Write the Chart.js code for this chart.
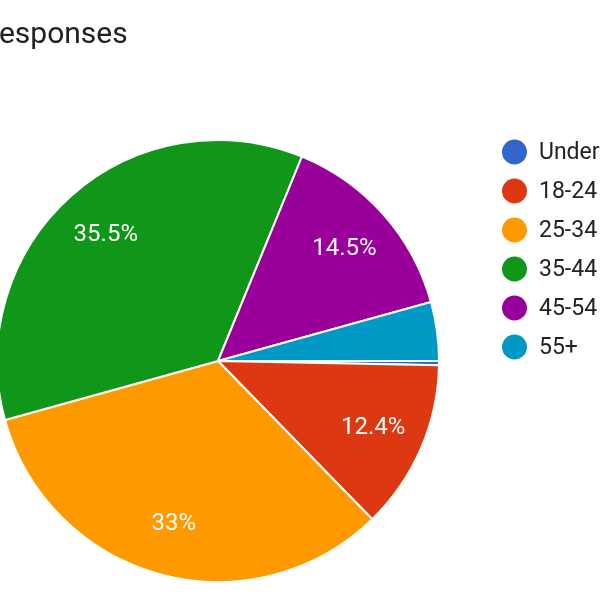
<!DOCTYPE html>
<html>
<head>
<meta charset="utf-8">
<title>Responses by age</title>
<script src="https://cdn.jsdelivr.net/npm/chart.js@4.4.1/dist/chart.umd.min.js"></script>
<style>
  html, body { margin: 0; padding: 0; background: #fff; overflow: hidden; width: 600px; height: 600px; }
  /* the reference is a crop, so the canvas is wider than the window and pushed left */
  #wrap { position: absolute; left: -40px; top: 0; width: 700px; height: 600px; }
</style>
</head>
<body>
<div id="wrap"><canvas id="agePie"></canvas></div>
<script>
const titleText = "responses";
const ageGroups = ["Under 18", "18-24", "25-34", "35-44", "45-54", "55+"];
const sharePercent = [0.3, 12.4, 33, 35.5, 14.5, 4.3];
const sliceColors = ["#3366CC", "#DC3912", "#FF9900", "#109618", "#990099", "#0099C6"];

const SHIFT = 40; // how far the canvas sits left of the window

// percentage text inside the bigger slices
const sliceLabels = {
  id: "sliceLabels",
  afterDatasetsDraw(chart) {
    const ctx = chart.ctx;
    const meta = chart.getDatasetMeta(0);
    ctx.save();
    ctx.font = "24px Roboto";
    ctx.fillStyle = "#ffffff";
    ctx.textAlign = "center";
    ctx.textBaseline = "middle";
    meta.data.forEach((arc, i) => {
      const v = sharePercent[i];
      if (v < 5) return; // small slices get no label
      const p = arc.getProps(["x", "y", "startAngle", "endAngle", "outerRadius"], true);
      const mid = (p.startAngle + p.endAngle) / 2;
      const r = p.outerRadius * 0.765;
      ctx.fillText(v + "%", p.x + Math.cos(mid) * r, p.y + Math.sin(mid) * r);
    });
    ctx.restore();
  }
};

// title and legend drawn by hand so they land where the reference has them
const sideLegend = {
  id: "sideLegend",
  afterDraw(chart) {
    const ctx = chart.ctx;
    const colors = chart.data.datasets[0].backgroundColor;
    ctx.save();
    ctx.font = "23px Roboto";
    ctx.textAlign = "left";
    ctx.textBaseline = "middle";
    chart.data.labels.forEach((name, i) => {
      const y = 152 + i * 39;
      ctx.beginPath();
      ctx.arc(514.5 + SHIFT, y, 12.5, 0, Math.PI * 2);
      ctx.fillStyle = colors[i];
      ctx.fill();
      ctx.fillStyle = "#222222";
      ctx.fillText(name, 539 + SHIFT, y + 1);
    });

    ctx.font = "30px Roboto";
    ctx.fillStyle = "#212121";
    ctx.textBaseline = "alphabetic";
    ctx.fillText(titleText, -11 + SHIFT, 43);
    ctx.restore();
  }
};

new Chart(document.getElementById("agePie"), {
  type: "pie",
  data: {
    labels: ageGroups,
    datasets: [
      {
        data: sharePercent,
        backgroundColor: sliceColors,
        borderColor: "#ffffff",
        borderWidth: 2,
      },
    ],
  },
  options: {
    responsive: true,
    maintainAspectRatio: false,
    animation: false,
    rotation: 90,
    layout: {
      padding: { left: 36, top: 139, right: 220, bottom: 17 },
    },
    plugins: {
      legend: { display: false },
      tooltip: { enabled: false },
    },
  },
  plugins: [sliceLabels, sideLegend],
});
</script>
</body>
</html>
